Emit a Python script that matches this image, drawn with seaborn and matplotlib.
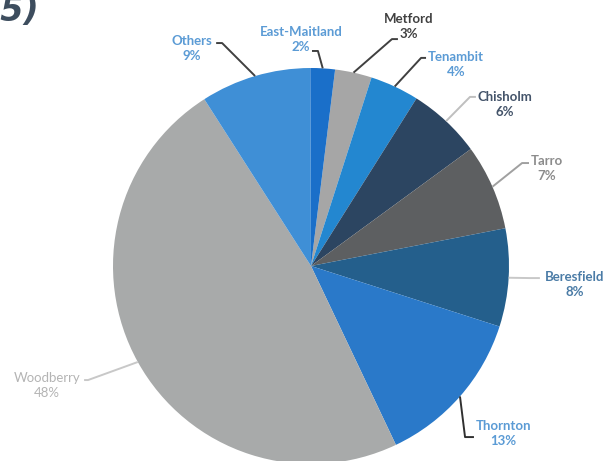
import numpy as np
import matplotlib
matplotlib.use("Agg")
import matplotlib.pyplot as plt
import seaborn as sns

# suburb shares, clockwise starting just right of 12 o'clock
suburbs = ["Metford", "Tenambit", "Chisholm", "Tarro", "Beresfield",
           "Thornton", "Woodberry", "Others", "East-Maitland"]
shares = [3, 4, 6, 7, 8, 13, 48, 9, 2]

wedge_colors = ["#a6a6a6", "#2387d0", "#2c4561", "#5d5f61", "#245f8c",
                "#2a79c9", "#a8aaaa", "#3f8fd6", "#1a6fc9"]
text_colors = ["#404040", "#5b9bd5", "#44546a", "#8c8c8c", "#4a7ba6",
               "#5b9bd5", "#b4b4b4", "#5b9bd5", "#5b9bd5"]
line_colors = ["#404040", "#404040", "#bfbfbf", "#a0a0a0", "#c8c8c8",
               "#303030", "#c8c8c8", "#404040", "#404040"]
bold = [True, True, True, True, True, True, False, True, True]

# label layout (pie radius = 1, centre = 0,0)
text_xy = [(0.495, 1.212), (0.732, 1.020), (0.980, 0.818), (1.192, 0.490),
           (1.333, -0.091), (0.970, -0.846), (-1.333, -0.604),
           (-0.601, 1.098), (-0.051, 1.144)]
elbow_xy = [(0.409, 1.146), (0.556, 1.051), (0.803, 0.854), (1.066, 0.520),
            (1.106, -0.061), (0.778, -0.864), (-1.126, -0.576),
            (-0.449, 1.126), (0.035, 1.086)]
hook = [0.03, 0.025, 0.03, 0.035, 0.05, 0.045, -0.02, -0.03, -0.03]

sns.set_theme(style="white")
plt.rcParams["font.family"] = ["Lato", "DejaVu Sans"]

fig = plt.figure(figsize=(6.16, 4.61), dpi=100)
ax = fig.add_axes([0, 0, 1, 1])

cx, cy, r = 311, 266, 198

wedges, _ = ax.pie(shares, colors=wedge_colors, startangle=83,
                   counterclock=False, radius=1.0, center=(0, 0),
                   wedgeprops=dict(linewidth=0), frame=True)
ax.set_xlim(-cx / r, (616 - cx) / r)
ax.set_ylim(-(461 - cy) / r, cy / r)
ax.set_aspect("equal")
ax.axis("off")

for i, w in enumerate(wedges):
    mid = np.deg2rad((w.theta1 + w.theta2) / 2)
    p0 = (np.cos(mid), np.sin(mid))
    ex, ey = elbow_xy[i]
    ax.plot([p0[0], ex, ex + hook[i]], [p0[1], ey, ey],
            color=line_colors[i], lw=1.4, solid_capstyle="butt")
    tx, ty = text_xy[i]
    ax.text(tx, ty, f"{suburbs[i]}\n{shares[i]}%", ha="center", va="center",
            fontsize=9.5, color=text_colors[i],
            fontweight="bold" if bold[i] else "normal", linespacing=1.3)

# cut-off heading in the top-left corner
fig.text(-0.024, 1 - 21 / 461, "(5)", fontsize=24, fontweight="bold",
         style="italic", color="#3d4d5e", va="baseline", ha="left",
         family=["DejaVu Sans"])

fig.savefig("out.png", dpi=100)
